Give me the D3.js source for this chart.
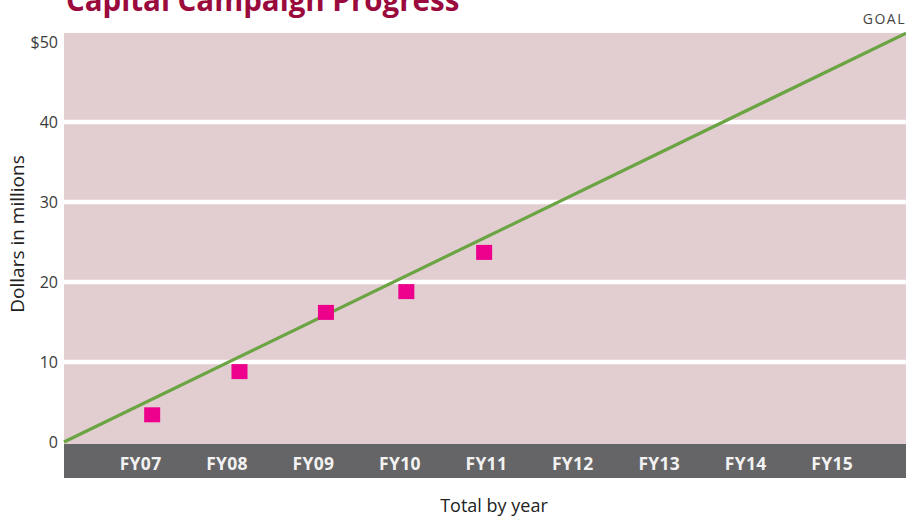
<!DOCTYPE html>
<html>
<head>
<meta charset="utf-8">
<script src="https://cdn.jsdelivr.net/npm/d3@7"></script>
<style>
  body { margin: 0; background: #fff; }
  svg { display: block; font-family: "Open Sans", sans-serif; }
</style>
</head>
<body>
<div id="chart"></div>
<script>
// data
var years = ["FY07", "FY08", "FY09", "FY10", "FY11", "FY12", "FY13", "FY14", "FY15"];
var yearPos = [7, 8, 9, 10, 11, 12, 13, 14, 15];
var raisedX = [7.14, 8.15, 9.15, 10.08, 10.98];
var raisedVal = [3.4, 8.8, 16.2, 18.8, 23.7];
var goalX = [6.12, 15.86];
var goalVal = [0, 51.1];
var yTicks = [0, 10, 20, 30, 40, 50];
var gridTicks = [10, 20, 30, 40];

var W = 906, H = 516;
var plotL = 64, plotR = 906, plotT = 33, plotB = 444;

var svg = d3.select("#chart").append("svg").attr("width", W).attr("height", H)

var x = d3.scaleLinear().domain([6.12, 15.86]).range([plotL, plotR])
var y = d3.scaleLinear().domain([0, 50]).range([442, 42])

// pink plot area
svg.append("rect")
  .attr("x", plotL).attr("y", plotT)
  .attr("width", plotR - plotL).attr("height", plotB - plotT)
  .attr("fill", "#e2cdd0")

// white grid lines
svg.selectAll(".grid").data(gridTicks).enter().append("line")
  .attr("x1", plotL).attr("x2", plotR)
  .attr("y1", d => y(d)).attr("y2", d => y(d))
  .attr("stroke", "#fff").attr("stroke-width", 4.5)

// dark band under the plot
svg.append("rect")
  .attr("x", plotL).attr("y", plotB)
  .attr("width", plotR - plotL).attr("height", 34)
  .attr("fill", "#656567")

// x axis labels in the band
var xAxis = d3.axisBottom(x).tickValues(yearPos).tickSize(0).tickPadding(0)
  .tickFormat((d, i) => years[i])
var gx = svg.append("g").attr("transform", "translate(0," + (plotB + 26) + ")").call(xAxis)
gx.select(".domain").remove()
gx.selectAll("text")
  .attr("dy", 0)
  .attr("fill", "#f2f2f2")
  .style("font-size", "17.5px")
  .style("font-weight", "bold")
  .style("letter-spacing", "0.3px")
  .style("font-family", "'Open Sans', sans-serif")

// y axis labels
var yAxis = d3.axisLeft(y).tickValues(yTicks).tickSize(0).tickPadding(0)
  .tickFormat(d => d == 50 ? "$50" : d)
var gy = svg.append("g").attr("transform", "translate(58,0)").call(yAxis)
gy.select(".domain").remove()
gy.selectAll("text")
  .attr("fill", "#3a3a3a")
  .style("font-size", "16px")
  .style("font-family", "'Open Sans', sans-serif")

// goal line
var line = d3.line().x(d => x(d[0])).y(d => y(d[1]))
svg.append("path")
  .datum(goalX.map((d, i) => [d, goalVal[i]]))
  .attr("d", line)
  .attr("fill", "none")
  .attr("stroke", "#6aa443")
  .attr("stroke-width", 3.2)

// raised squares
var sq = 16;
svg.selectAll(".pt").data(raisedX.map((d, i) => [d, raisedVal[i]])).enter().append("rect")
  .attr("x", d => x(d[0]) - sq / 2)
  .attr("y", d => y(d[1]) - 7.5)
  .attr("width", sq).attr("height", 15)
  .attr("fill", "#ec008c")

// texts
svg.append("text")
  .attr("x", 66).attr("y", 11)
  .attr("fill", "#9b0a3c")
  .style("font-size", "29.5px").style("font-weight", "bold")
  .text("Capital Campaign Progress")

svg.append("text")
  .attr("x", 906).attr("y", 24)
  .attr("text-anchor", "end")
  .attr("fill", "#444")
  .style("font-size", "14px").style("letter-spacing", "1.5px")
  .text("GOAL")

svg.append("text")
  .attr("transform", "translate(24,234) rotate(-90)")
  .attr("text-anchor", "middle")
  .attr("fill", "#222")
  .style("font-size", "19px")
  .text("Dollars in millions")

svg.append("text")
  .attr("x", 494).attr("y", 512)
  .attr("text-anchor", "middle")
  .attr("fill", "#222")
  .style("font-size", "18px")
  .text("Total by year")
</script>
</body>
</html>
